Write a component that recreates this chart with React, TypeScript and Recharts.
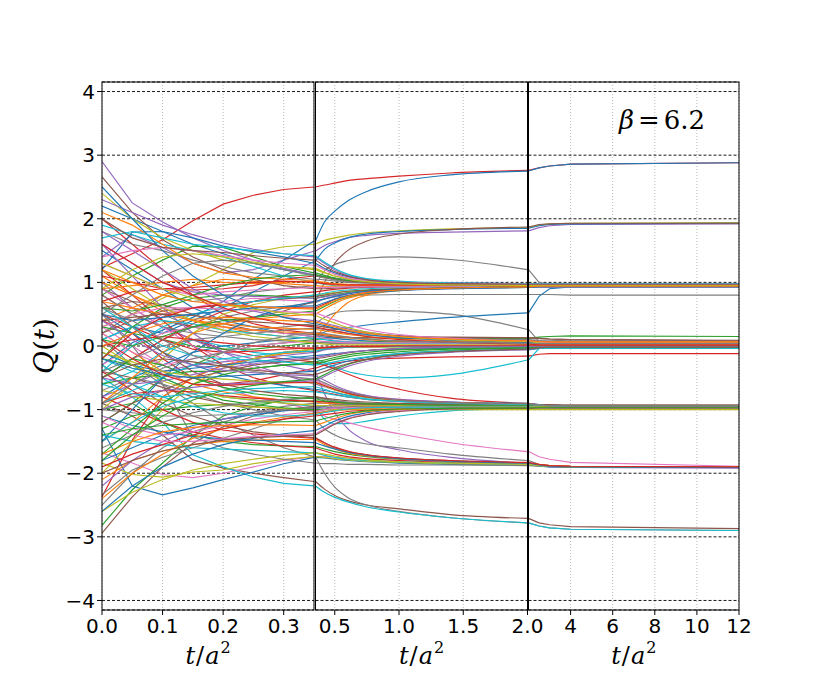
import React from 'react';
import { LineChart, Line, XAxis, YAxis, CartesianGrid } from 'recharts';

// sample times (t/a^2)
const TIMES = [0, 0.05, 0.1, 0.15, 0.2, 0.25, 0.3, 0.35, 0.42, 0.5, 0.6, 0.75, 1.0, 1.4, 2.0, 2.5, 3, 4, 12];

const Y_TICKS = [-4, -3, -2, -1, 0, 1, 2, 3, 4];
const X_TICKS_A = [0, 0.1, 0.2, 0.3];
const X_TICKS_B = [0.5, 1.0, 1.5, 2.0];
const X_TICKS_C = [4, 6, 8, 10, 12];

const PALETTE = ['#1f77b4', '#ff7f0e', '#2ca02c', '#d62728', '#9467bd', '#8c564b', '#e377c2', '#7f7f7f', '#bcbd22', '#17becf'];

// trajectories ending near Q = 3
const PLUS3 = [
  [1.23, 1.45, 1.67, 1.97, 2.23, 2.37, 2.46, 2.5, 2.53, 2.56, 2.6, 2.63, 2.67, 2.72, 2.76, 2.8, 2.83, 2.86, 2.88],
  [-0.3, 0.05, 0.25, 0.45, 0.7, 1.05, 1.35, 1.65, 1.95, 2.12, 2.28, 2.43, 2.58, 2.69, 2.75, 2.8, 2.83, 2.86, 2.88],
];
const PLUS3_C = [3, 0];

// trajectories ending near Q = 2
const PLUS2 = [
  [0.3, 0.5, 0.75, 0.95, 1.2, 1.47, 1.56, 1.6, 1.66, 1.7, 1.74, 1.78, 1.81, 1.84, 1.86, 1.9, 1.92, 1.93, 1.94],
  [1.4, 1.75, 1.55, 1.3, 1.15, 1.2, 1.35, 1.49, 1.58, 1.64, 1.7, 1.74, 1.77, 1.79, 1.81, 1.86, 1.89, 1.91, 1.92],
  [0.1, 0.3, 0.2, 0.4, 0.6, 0.85, 1.1, 1.33, 1.52, 1.62, 1.7, 1.76, 1.8, 1.83, 1.85, 1.89, 1.91, 1.92, 1.93],
  [0.9, 0.7, 0.4, 0.3, 0.35, 0.45, 0.55, 0.7, 1.0, 1.3, 1.5, 1.65, 1.76, 1.83, 1.87, 1.91, 1.92, 1.93, 1.93],
];
const PLUS2_C = [8, 4, 0, 5];

// trajectories ending near Q = 1
const PLUS1 = [
  [0.2, 0.5, 0.8, 0.7, 0.75, 0.85, 0.9, 0.95, 1.18, 1.28, 1.34, 1.38, 1.4, 1.36, 1.2, 1.0, 0.97, 0.97, 0.97],
  [-0.5, -0.2, 0.1, 0.3, 0.45, 0.55, 0.62, 0.68, 0.74, 0.77, 0.79, 0.8, 0.81, 0.81, 0.81, 0.81, 0.81, 0.8, 0.8],
  [-0.8, -0.5, -0.3, -0.1, 0.0, 0.05, 0.1, 0.15, 0.22, 0.26, 0.29, 0.33, 0.38, 0.45, 0.52, 0.78, 0.9, 0.93, 0.94],
  [1.1, 0.8, 0.6, 0.4, 0.3, 0.2, 0.15, 0.12, 0.3, 0.5, 0.68, 0.8, 0.87, 0.91, 0.93, 0.95, 0.95, 0.95, 0.95],
  [2.2, 2.0, 1.8, 1.6, 1.45, 1.3, 1.2, 1.12, 1.08, 1.05, 1.02, 1.0, 0.98, 0.97, 0.96, 0.97, 0.97, 0.97, 0.97],
  [0.4, 0.6, 0.8, 0.95, 1.05, 1.02, 0.98, 0.95, 0.94, 0.94, 0.94, 0.95, 0.95, 0.95, 0.95, 0.96, 0.96, 0.96, 0.96],
  [0.8, 1.1, 1.35, 1.57, 1.55, 1.4, 1.25, 1.15, 1.11, 1.07, 1.04, 1.01, 0.98, 0.96, 0.95, 0.95, 0.95, 0.95, 0.95],
  [-0.5, -0.2, 0.1, 0.35, 0.55, 0.7, 0.8, 0.85, 0.87, 0.89, 0.91, 0.92, 0.93, 0.94, 0.95, 0.95, 0.95, 0.95, 0.95],
  [2.9, 2.25, 1.95, 1.7, 1.5, 1.35, 1.22, 1.12, 1.09, 1.06, 1.04, 1.02, 1.0, 0.99, 0.98, 0.98, 0.98, 0.98, 0.98],
  [2.66, 2.1, 1.67, 1.4, 1.2, 1.05, 0.95, 0.9, 0.9, 0.91, 0.92, 0.93, 0.93, 0.94, 0.94, 0.94, 0.94, 0.94, 0.94],
  [0.0, 0.2, 0.5, 0.6, 0.7, 0.75, 0.72, 0.7, 0.74, 0.78, 0.82, 0.86, 0.89, 0.91, 0.93, 0.94, 0.94, 0.94, 0.94],
  [1.8, 1.6, 1.5, 1.35, 1.25, 1.15, 1.1, 1.05, 1.04, 1.02, 1.0, 0.99, 0.98, 0.97, 0.97, 0.97, 0.97, 0.97, 0.97],
  [-1.0, -0.6, -0.2, 0.2, 0.5, 0.65, 0.75, 0.8, 0.82, 0.84, 0.86, 0.88, 0.9, 0.92, 0.94, 0.95, 0.95, 0.95, 0.95],
  [1.9, 1.75, 1.6, 1.5, 1.4, 1.25, 1.1, 1.0, 0.97, 0.95, 0.95, 0.95, 0.95, 0.95, 0.95, 0.95, 0.95, 0.95, 0.95],
  [1.2, 1.79, 1.8, 1.7, 1.57, 1.48, 1.4, 1.3, 1.22, 1.15, 1.09, 1.04, 1.0, 0.99, 0.98, 0.98, 0.98, 0.98, 0.98],
  [0.9, 0.95, 1.0, 1.05, 1.0, 0.98, 1.0, 1.02, 0.98, 0.96, 0.95, 0.95, 0.95, 0.95, 0.95, 0.95, 0.95, 0.95, 0.95],
  [-0.2, 0.3, 0.6, 0.75, 0.8, 0.8, 0.78, 0.75, 0.78, 0.81, 0.84, 0.87, 0.89, 0.91, 0.92, 0.93, 0.93, 0.93, 0.93],
  [0.7, 0.85, 0.9, 0.88, 0.9, 0.95, 1.05, 1.1, 1.08, 1.05, 1.02, 1.0, 0.98, 0.97, 0.96, 0.96, 0.96, 0.96, 0.96],
  [1.6, 1.3, 1.0, 0.85, 0.8, 0.78, 0.76, 0.75, 0.77, 0.8, 0.83, 0.86, 0.88, 0.9, 0.92, 0.93, 0.93, 0.93, 0.93],
  [0.2, 0.4, 0.55, 0.6, 0.65, 0.7, 0.74, 0.78, 0.8, 0.83, 0.86, 0.88, 0.9, 0.92, 0.94, 0.94, 0.94, 0.94, 0.94],
  [2.1, 1.9, 1.6, 1.3, 1.15, 1.08, 1.05, 1.03, 1.0, 0.98, 0.97, 0.96, 0.96, 0.96, 0.96, 0.96, 0.96, 0.96, 0.96],
  [-0.4, 0.0, 0.3, 0.5, 0.62, 0.7, 0.75, 0.8, 0.83, 0.86, 0.88, 0.9, 0.92, 0.93, 0.94, 0.95, 0.95, 0.95, 0.95],
  [1.1, 1.0, 0.9, 0.92, 0.96, 1.0, 1.02, 1.0, 0.98, 0.97, 0.96, 0.96, 0.96, 0.96, 0.96, 0.96, 0.96, 0.96, 0.96],
  [1.3, 1.1, 0.9, 0.8, 0.85, 0.88, 0.9, 0.92, 0.92, 0.92, 0.93, 0.93, 0.93, 0.93, 0.93, 0.93, 0.93, 0.93, 0.93],
  [0.6, 0.55, 0.65, 0.8, 0.95, 1.05, 1.1, 1.12, 1.09, 1.06, 1.03, 1.01, 0.99, 0.98, 0.97, 0.97, 0.97, 0.97, 0.97],
  [2.4, 2.0, 1.7, 1.5, 1.35, 1.3, 1.25, 1.2, 1.15, 1.1, 1.06, 1.02, 1.0, 0.98, 0.97, 0.97, 0.97, 0.97, 0.97],
  [-1.5, -1.0, -0.5, -0.1, 0.2, 0.45, 0.6, 0.7, 0.74, 0.78, 0.82, 0.86, 0.89, 0.91, 0.93, 0.94, 0.94, 0.94, 0.94],
  [0.5, 0.8, 1.1, 1.3, 1.35, 1.3, 1.2, 1.1, 1.07, 1.04, 1.01, 0.99, 0.97, 0.96, 0.96, 0.96, 0.96, 0.96, 0.96],
  [-0.9, -0.5, -0.1, 0.2, 0.35, 0.42, 0.47, 0.5, 0.58, 0.67, 0.75, 0.82, 0.88, 0.91, 0.93, 0.94, 0.94, 0.94, 0.94],
  [2.3, 2.1, 1.9, 1.75, 1.62, 1.52, 1.45, 1.4, 1.3, 1.2, 1.11, 1.05, 1.01, 0.99, 0.98, 0.98, 0.98, 0.98, 0.98],
  [1.7, 1.8, 1.7, 1.6, 1.55, 1.5, 1.45, 1.42, 1.32, 1.22, 1.13, 1.06, 1.02, 0.99, 0.98, 0.98, 0.98, 0.98, 0.98],
  [0.1, 0.0, 0.15, 0.3, 0.4, 0.45, 0.5, 0.55, 0.62, 0.7, 0.77, 0.83, 0.88, 0.91, 0.93, 0.94, 0.94, 0.94, 0.94],
  [-0.2, 0.2, 0.45, 0.6, 0.65, 0.62, 0.6, 0.6, 0.66, 0.73, 0.79, 0.84, 0.88, 0.91, 0.93, 0.94, 0.94, 0.94, 0.94],
  [1.4, 1.5, 1.55, 1.5, 1.42, 1.35, 1.3, 1.27, 1.2, 1.13, 1.07, 1.03, 1.0, 0.98, 0.97, 0.97, 0.97, 0.97, 0.97],
  [0.9, 1.2, 1.4, 1.45, 1.4, 1.32, 1.25, 1.22, 1.16, 1.1, 1.05, 1.01, 0.98, 0.96, 0.95, 0.95, 0.95, 0.95, 0.95],
  [0.5, 0.4, 0.45, 0.5, 0.55, 0.6, 0.62, 0.63, 0.68, 0.74, 0.79, 0.83, 0.87, 0.9, 0.92, 0.93, 0.93, 0.93, 0.93],
  [2.0, 1.7, 1.55, 1.5, 1.47, 1.42, 1.38, 1.35, 1.26, 1.17, 1.1, 1.04, 1.0, 0.98, 0.97, 0.97, 0.97, 0.97, 0.97],
  [1.2, 1.0, 0.8, 0.7, 0.65, 0.62, 0.6, 0.58, 0.64, 0.71, 0.78, 0.84, 0.88, 0.91, 0.93, 0.94, 0.94, 0.94, 0.94],
];
const PLUS1_C = [7, 7, 0, 1, 0, 1, 2, 3, 4, 5, 6, 7, 8, 9, 0, 1, 2, 3, 4, 5, 1, 9, 3, 6, 2, 8, 0, 7, 1, 4, 9, 2, 3, 6, 8, 0, 5, 1];

// trajectories ending near Q = 0
const ZERO = [
  [0.9, 0.6, 0.5, 0.3, 0.2, 0.25, 0.3, 0.35, 0.45, 0.52, 0.55, 0.56, 0.55, 0.5, 0.26, 0.07, 0.05, 0.05, 0.05],
  [-1.2, -0.9, -0.5, -0.3, -0.1, 0.0, 0.05, 0.1, 0.12, 0.13, 0.13, 0.13, 0.12, 0.12, 0.12, 0.14, 0.15, 0.16, 0.15],
  [0.4, 0.2, -0.2, -0.5, -0.6, -0.55, -0.45, -0.35, -0.3, -0.27, -0.24, -0.21, -0.19, -0.17, -0.16, -0.13, -0.12, -0.12, -0.12],
  [-0.6, -0.4, -0.1, 0.1, 0.0, -0.1, -0.15, -0.2, -0.26, -0.33, -0.4, -0.46, -0.5, -0.45, -0.22, -0.04, -0.02, -0.02, -0.02],
  [-2.37, -1.48, -0.8, -0.5, -0.3, -0.2, -0.1, -0.05, -0.03, -0.02, -0.01, 0.0, 0.0, 0.0, 0.0, 0.0, 0.0, 0.0, 0.0],
  [1.5, 1.2, 0.9, 0.6, 0.4, 0.3, 0.2, 0.15, 0.14, 0.12, 0.1, 0.08, 0.06, 0.05, 0.05, 0.05, 0.05, 0.05, 0.05],
  [-1.5, -1.2, -0.8, -0.5, -0.3, -0.2, -0.12, -0.08, -0.05, -0.03, -0.02, -0.01, 0.0, 0.0, 0.0, 0.0, 0.0, 0.0, 0.0],
  [0.3, 0.2, 0.1, 0.0, -0.05, -0.05, 0.0, 0.05, 0.06, 0.06, 0.06, 0.06, 0.06, 0.06, 0.06, 0.06, 0.06, 0.06, 0.06],
  [2.0, 1.6, 1.2, 0.8, 0.5, 0.35, 0.25, 0.2, 0.18, 0.16, 0.14, 0.11, 0.08, 0.06, 0.05, 0.04, 0.04, 0.04, 0.04],
  [-0.8, -0.6, -0.4, -0.3, -0.25, -0.2, -0.15, -0.1, -0.06, -0.04, -0.02, -0.01, 0.0, 0.0, 0.01, 0.01, 0.01, 0.01, 0.01],
  [0.6, 0.7, 0.65, 0.5, 0.35, 0.25, 0.2, 0.18, 0.16, 0.14, 0.13, 0.13, 0.13, 0.13, 0.13, 0.12, 0.11, 0.1, 0.08],
  [-0.3, 0.0, 0.2, 0.3, 0.3, 0.25, 0.2, 0.15, 0.12, 0.09, 0.07, 0.05, 0.04, 0.03, 0.03, 0.03, 0.03, 0.03, 0.03],
  [0.8, 0.5, 0.3, 0.2, 0.15, 0.1, 0.08, 0.06, 0.05, 0.04, 0.04, 0.04, 0.04, 0.04, 0.04, 0.04, 0.04, 0.04, 0.04],
  [-2.0, -1.5, -1.0, -0.6, -0.35, -0.2, -0.1, -0.05, -0.03, -0.02, -0.02, -0.02, -0.02, -0.02, -0.02, -0.02, -0.02, -0.02, -0.02],
  [0.1, 0.3, 0.4, 0.35, 0.25, 0.2, 0.15, 0.12, 0.1, 0.08, 0.06, 0.05, 0.04, 0.04, 0.04, 0.04, 0.04, 0.04, 0.04],
  [-0.1, -0.3, -0.4, -0.35, -0.3, -0.25, -0.2, -0.15, -0.14, -0.12, -0.1, -0.07, -0.05, -0.04, -0.03, -0.03, -0.03, -0.03, -0.03],
  [1.0, 0.8, 0.55, 0.4, 0.3, 0.25, 0.22, 0.2, 0.18, 0.16, 0.13, 0.1, 0.08, 0.07, 0.06, 0.06, 0.06, 0.06, 0.06],
  [-0.6, -0.5, -0.45, -0.4, -0.4, -0.35, -0.3, -0.25, -0.22, -0.18, -0.14, -0.1, -0.06, -0.04, -0.02, -0.02, -0.02, -0.02, -0.02],
  [0.5, 0.3, 0.1, -0.05, -0.1, -0.08, -0.05, -0.03, -0.02, -0.01, 0.0, 0.0, 0.0, 0.0, 0.0, 0.0, 0.0, 0.0, 0.0],
  [1.8, 1.5, 1.2, 0.9, 0.7, 0.55, 0.45, 0.4, 0.36, 0.32, 0.27, 0.22, 0.16, 0.12, 0.09, 0.08, 0.07, 0.06, 0.05],
  [-1.2, -0.9, -0.7, -0.5, -0.4, -0.3, -0.25, -0.2, -0.18, -0.15, -0.11, -0.07, -0.04, -0.02, 0.0, 0.0, 0.0, 0.0, 0.0],
  [0.2, -0.1, -0.3, -0.2, -0.1, 0.0, 0.05, 0.08, 0.07, 0.06, 0.05, 0.05, 0.05, 0.05, 0.05, 0.05, 0.05, 0.05, 0.05],
  [-0.4, -0.2, 0.0, 0.1, 0.15, 0.2, 0.25, 0.28, 0.26, 0.23, 0.2, 0.17, 0.14, 0.11, 0.1, 0.09, 0.09, 0.08, 0.08],
  [1.2, 0.9, 0.6, 0.4, 0.25, 0.15, 0.1, 0.05, 0.03, 0.02, 0.02, 0.02, 0.02, 0.02, 0.02, 0.02, 0.02, 0.02, 0.02],
  [-0.9, -0.7, -0.5, -0.3, -0.2, -0.15, -0.1, -0.08, -0.05, -0.03, -0.02, -0.01, -0.01, -0.01, -0.01, -0.01, -0.01, -0.01, -0.01],
  [0.0, 0.1, 0.15, 0.1, 0.05, 0.0, -0.02, -0.04, -0.03, -0.02, -0.01, -0.01, 0.0, 0.0, 0.0, 0.0, 0.0, 0.0, 0.0],
  [0.7, 0.6, 0.5, 0.4, 0.35, 0.3, 0.28, 0.26, 0.24, 0.21, 0.18, 0.15, 0.11, 0.08, 0.06, 0.06, 0.06, 0.06, 0.06],
  [-1.7, -1.3, -0.9, -0.6, -0.45, -0.35, -0.3, -0.28, -0.25, -0.21, -0.17, -0.13, -0.09, -0.05, -0.03, -0.03, -0.03, -0.03, -0.03],
  [0.4, 0.45, 0.5, 0.48, 0.42, 0.38, 0.35, 0.32, 0.3, 0.27, 0.24, 0.2, 0.16, 0.14, 0.13, 0.12, 0.11, 0.1, 0.09],
  [-0.5, -0.6, -0.55, -0.45, -0.35, -0.28, -0.22, -0.18, -0.16, -0.13, -0.1, -0.07, -0.04, -0.02, -0.01, -0.01, -0.01, -0.01, -0.01],
  [2.5, 2.0, 1.5, 1.1, 0.8, 0.6, 0.45, 0.35, 0.32, 0.28, 0.23, 0.18, 0.13, 0.09, 0.06, 0.05, 0.05, 0.05, 0.05],
  [-1.0, -0.8, -0.7, -0.65, -0.6, -0.58, -0.56, -0.55, -0.48, -0.4, -0.32, -0.24, -0.16, -0.1, -0.06, -0.04, -0.03, -0.03, -0.03],
  [0.3, 0.5, 0.6, 0.6, 0.58, 0.56, 0.54, 0.52, 0.47, 0.41, 0.34, 0.26, 0.18, 0.12, 0.08, 0.06, 0.05, 0.05, 0.05],
  [-0.2, -0.35, -0.45, -0.5, -0.48, -0.45, -0.42, -0.4, -0.35, -0.3, -0.24, -0.18, -0.12, -0.08, -0.05, -0.04, -0.04, -0.04, -0.04],
  [1.3, 1.1, 0.9, 0.75, 0.65, 0.58, 0.52, 0.48, 0.42, 0.36, 0.29, 0.22, 0.15, 0.1, 0.07, 0.05, 0.04, 0.04, 0.04],
  [-1.8, -1.4, -1.1, -0.85, -0.7, -0.62, -0.56, -0.52, -0.45, -0.37, -0.29, -0.21, -0.13, -0.07, -0.03, -0.02, -0.02, -0.02, -0.02],
  [0.6, 0.3, 0.0, -0.15, -0.2, -0.22, -0.25, -0.3, -0.28, -0.25, -0.21, -0.17, -0.12, -0.08, -0.05, -0.04, -0.04, -0.04, -0.04],
  [0.0, 0.2, 0.35, 0.42, 0.45, 0.43, 0.4, 0.38, 0.34, 0.3, 0.25, 0.2, 0.15, 0.11, 0.08, 0.07, 0.06, 0.06, 0.06],
  [-0.5, -0.3, -0.2, -0.25, -0.32, -0.38, -0.42, -0.45, -0.4, -0.34, -0.28, -0.21, -0.14, -0.09, -0.05, -0.03, -0.02, -0.02, -0.02],
  [1.6, 1.3, 1.0, 0.8, 0.6, 0.45, 0.35, 0.3, 0.27, 0.24, 0.2, 0.15, 0.1, 0.06, 0.03, 0.02, 0.02, 0.02, 0.02],
  [-0.9, -0.6, -0.35, -0.2, -0.1, 0.05, 0.15, 0.22, 0.2, 0.17, 0.14, 0.11, 0.08, 0.06, 0.04, 0.04, 0.04, 0.04, 0.04],
];
const ZERO_C = [7, 2, 3, 9, 3, 0, 1, 2, 3, 4, 5, 6, 7, 8, 9, 0, 1, 2, 3, 4, 5, 6, 7, 8, 9, 3, 1, 2, 5, 4, 0, 4, 6, 0, 8, 2, 9, 1, 5, 3, 7];

// trajectories ending near Q = -1
const MINUS1 = [
  [-0.2, -0.4, -0.5, -0.7, -0.8, -0.85, -0.9, -0.95, -1.15, -1.22, -1.22, -1.18, -1.1, -1.02, -0.98, -0.97, -0.97, -0.97, -0.97],
  [0.8, 0.5, 0.3, 0.1, -0.05, -0.15, -0.2, -0.25, -0.3, -0.36, -0.44, -0.55, -0.68, -0.82, -0.9, -0.93, -0.94, -0.95, -0.95],
  [-2.94, -2.37, -1.9, -1.53, -1.27, -1.1, -1.0, -0.95, -0.94, -0.94, -0.94, -0.95, -0.95, -0.96, -0.96, -0.96, -0.97, -0.97, -0.97],
  [-2.82, -2.26, -1.84, -1.42, -1.1, -0.95, -0.85, -0.8, -0.83, -0.86, -0.89, -0.91, -0.93, -0.94, -0.95, -0.95, -0.96, -0.96, -0.96],
  [-2.5, -2.0, -1.6, -1.35, -1.2, -1.05, -0.95, -0.9, -0.9, -0.91, -0.92, -0.93, -0.94, -0.95, -0.95, -0.96, -0.96, -0.96, -0.96],
  [-2.34, -1.95, -1.75, -1.6, -1.45, -1.3, -1.15, -1.05, -1.03, -1.01, -0.99, -0.98, -0.97, -0.97, -0.97, -0.97, -0.97, -0.97, -0.97],
  [-1.8, -1.6, -1.4, -1.25, -1.15, -1.08, -1.02, -0.98, -0.95, -0.93, -0.92, -0.92, -0.92, -0.93, -0.93, -0.94, -0.94, -0.95, -0.95],
  [0.2, -0.1, -0.4, -0.6, -0.72, -0.8, -0.85, -0.88, -0.9, -0.91, -0.92, -0.92, -0.93, -0.93, -0.93, -0.94, -0.94, -0.94, -0.94],
  [-1.3, -1.1, -1.0, -0.95, -0.92, -0.9, -0.88, -0.86, -0.87, -0.88, -0.89, -0.9, -0.91, -0.92, -0.92, -0.93, -0.93, -0.94, -0.94],
  [1.2, 0.8, 0.4, 0.0, -0.3, -0.5, -0.62, -0.7, -0.73, -0.76, -0.8, -0.84, -0.87, -0.9, -0.91, -0.92, -0.93, -0.94, -0.94],
  [-2.2, -1.8, -1.5, -1.3, -1.15, -1.05, -1.0, -0.98, -0.97, -0.96, -0.96, -0.96, -0.96, -0.96, -0.96, -0.97, -0.97, -0.97, -0.97],
  [-0.4, -0.5, -0.65, -0.8, -0.9, -0.95, -1.0, -1.02, -1.0, -0.98, -0.96, -0.95, -0.95, -0.95, -0.95, -0.96, -0.96, -0.96, -0.96],
  [0.9, 0.6, 0.3, 0.0, -0.2, -0.35, -0.45, -0.55, -0.6, -0.66, -0.72, -0.78, -0.84, -0.88, -0.91, -0.93, -0.94, -0.95, -0.95],
  [-1.0, -1.05, -1.1, -1.1, -1.08, -1.05, -1.0, -0.96, -0.94, -0.93, -0.92, -0.92, -0.92, -0.92, -0.92, -0.93, -0.93, -0.93, -0.93],
  [-0.7, -0.8, -0.85, -0.9, -0.93, -0.96, -0.98, -1.0, -1.0, -1.0, -1.0, -1.0, -1.0, -1.0, -1.0, -1.0, -1.0, -1.0, -1.0],
  [-1.5, -1.2, -0.95, -0.8, -0.75, -0.72, -0.7, -0.72, -0.74, -0.77, -0.8, -0.84, -0.87, -0.9, -0.92, -0.93, -0.94, -0.95, -0.95],
  [0.5, 0.2, -0.1, -0.3, -0.45, -0.55, -0.62, -0.68, -0.7, -0.73, -0.77, -0.81, -0.85, -0.88, -0.9, -0.92, -0.93, -0.94, -0.95],
  [-2.4, -2.0, -1.7, -1.45, -1.3, -1.2, -1.12, -1.06, -1.04, -1.02, -1.0, -0.98, -0.97, -0.96, -0.96, -0.96, -0.96, -0.96, -0.96],
  [-0.2, -0.3, -0.5, -0.7, -0.85, -0.92, -0.97, -1.0, -0.99, -0.98, -0.97, -0.96, -0.96, -0.96, -0.96, -0.96, -0.96, -0.96, -0.96],
  [-0.9, -0.75, -0.7, -0.72, -0.78, -0.82, -0.85, -0.87, -0.88, -0.89, -0.9, -0.91, -0.91, -0.92, -0.92, -0.93, -0.93, -0.94, -0.94],
  [1.6, 1.1, 0.6, 0.2, -0.1, -0.3, -0.45, -0.6, -0.64, -0.69, -0.74, -0.79, -0.84, -0.88, -0.92, -0.93, -0.94, -0.95, -0.95],
  [-1.1, -1.3, -1.4, -1.35, -1.25, -1.15, -1.08, -1.03, -1.0, -0.98, -0.97, -0.96, -0.96, -0.96, -0.96, -0.96, -0.96, -0.96, -0.96],
  [-0.3, -0.6, -0.8, -0.95, -1.05, -1.1, -1.1, -1.08, -1.05, -1.02, -0.99, -0.97, -0.96, -0.96, -0.96, -0.96, -0.96, -0.96, -0.96],
  [0.0, -0.3, -0.55, -0.7, -0.8, -0.85, -0.9, -0.93, -0.94, -0.94, -0.94, -0.94, -0.94, -0.94, -0.94, -0.95, -0.95, -0.95, -0.95],
  [-1.6, -1.4, -1.2, -1.05, -0.95, -0.88, -0.84, -0.82, -0.84, -0.86, -0.88, -0.9, -0.92, -0.93, -0.93, -0.94, -0.94, -0.94, -0.94],
  [0.7, 0.3, -0.1, -0.4, -0.6, -0.7, -0.76, -0.8, -0.82, -0.84, -0.86, -0.88, -0.9, -0.91, -0.92, -0.93, -0.93, -0.93, -0.93],
  [-0.5, -0.2, -0.3, -0.5, -0.65, -0.75, -0.8, -0.83, -0.86, -0.88, -0.9, -0.91, -0.92, -0.93, -0.93, -0.94, -0.94, -0.95, -0.95],
  [-1.9, -1.7, -1.55, -1.4, -1.3, -1.22, -1.15, -1.1, -1.08, -1.06, -1.03, -1.01, -0.99, -0.98, -0.97, -0.97, -0.97, -0.97, -0.97],
  [-2.6, -2.2, -1.9, -1.7, -1.55, -1.45, -1.38, -1.33, -1.26, -1.18, -1.11, -1.05, -1.0, -0.98, -0.97, -0.97, -0.97, -0.97, -0.97],
  [0.4, 0.1, -0.15, -0.3, -0.38, -0.42, -0.45, -0.47, -0.54, -0.62, -0.7, -0.78, -0.85, -0.89, -0.92, -0.93, -0.94, -0.95, -0.95],
  [-1.2, -1.4, -1.5, -1.5, -1.46, -1.42, -1.4, -1.38, -1.3, -1.22, -1.14, -1.07, -1.02, -0.99, -0.97, -0.97, -0.97, -0.97, -0.97],
  [-0.1, -0.25, -0.4, -0.48, -0.52, -0.55, -0.57, -0.58, -0.63, -0.69, -0.75, -0.81, -0.86, -0.89, -0.91, -0.93, -0.94, -0.95, -0.95],
  [-1.7, -1.5, -1.35, -1.28, -1.25, -1.24, -1.24, -1.25, -1.2, -1.14, -1.08, -1.03, -1.0, -0.98, -0.97, -0.97, -0.97, -0.97, -0.97],
  [0.1, -0.2, -0.45, -0.6, -0.62, -0.6, -0.58, -0.57, -0.62, -0.68, -0.74, -0.8, -0.85, -0.89, -0.91, -0.93, -0.94, -0.95, -0.95],
  [-2.0, -1.8, -1.65, -1.55, -1.48, -1.44, -1.42, -1.4, -1.32, -1.23, -1.15, -1.08, -1.03, -0.99, -0.98, -0.97, -0.97, -0.97, -0.97],
  [-0.6, -0.75, -0.8, -0.75, -0.7, -0.67, -0.65, -0.64, -0.68, -0.73, -0.78, -0.83, -0.87, -0.9, -0.92, -0.93, -0.94, -0.95, -0.95],
  [-1.4, -1.3, -1.25, -1.22, -1.2, -1.2, -1.19, -1.18, -1.14, -1.1, -1.06, -1.02, -0.99, -0.98, -0.97, -0.97, -0.97, -0.97, -0.97],
  [0.6, 0.4, 0.1, -0.15, -0.3, -0.4, -0.47, -0.52, -0.58, -0.65, -0.72, -0.79, -0.85, -0.89, -0.91, -0.93, -0.94, -0.95, -0.95],
];
const MINUS1_C = [9, 3, 5, 2, 7, 7, 0, 1, 2, 3, 4, 5, 6, 7, 8, 9, 0, 1, 2, 3, 4, 6, 9, 8, 7, 5, 2, 3, 0, 4, 6, 8, 1, 3, 5, 9, 2, 7];

// trajectories ending near Q = -2
const MINUS2 = [
  [0.3, 0.0, -0.3, -0.5, -0.65, -0.8, -0.9, -1.0, -1.1, -1.15, -1.2, -1.28, -1.38, -1.52, -1.66, -1.74, -1.78, -1.83, -1.89],
  [-1.68, -1.84, -2.02, -2.07, -2.0, -1.9, -1.8, -1.74, -1.74, -1.75, -1.76, -1.78, -1.8, -1.82, -1.84, -1.87, -1.88, -1.89, -1.9],
  [1.0, 0.6, 0.3, 0.1, -0.1, -0.2, -0.3, -0.4, -0.75, -1.05, -1.3, -1.5, -1.63, -1.75, -1.84, -1.88, -1.9, -1.91, -1.92],
  [-0.7, -0.5, -0.6, -0.75, -0.9, -1.0, -1.1, -1.16, -1.3, -1.4, -1.48, -1.54, -1.6, -1.7, -1.8, -1.86, -1.88, -1.9, -1.91],
  [-1.3, -2.2, -2.34, -2.23, -2.1, -1.98, -1.85, -1.75, -1.76, -1.78, -1.8, -1.82, -1.84, -1.86, -1.87, -1.89, -1.9, -1.9, -1.91],
  [-1.84, -2.02, -2.06, -1.98, -1.95, -1.85, -1.78, -1.74, -1.75, -1.77, -1.79, -1.81, -1.83, -1.85, -1.86, -1.88, -1.89, -1.9, -1.9],
  [0.5, 0.0, -0.6, -1.43, -1.6, -1.7, -1.78, -1.84, -1.85, -1.85, -1.86, -1.86, -1.87, -1.87, -1.88, -1.89, -1.89, -1.9, -1.9],
  [-1.0, -0.9, -1.2, -1.4, -1.5, -1.55, -1.57, -1.58, -1.62, -1.66, -1.7, -1.74, -1.78, -1.81, -1.84, -1.87, -1.88, -1.89, -1.9],
  [-0.8, -1.0, -1.2, -1.35, -1.45, -1.52, -1.57, -1.6, -1.65, -1.7, -1.74, -1.77, -1.8, -1.83, -1.85, -1.87, -1.88, -1.89, -1.9],
  [-2.1, -1.8, -1.65, -1.55, -1.5, -1.48, -1.47, -1.47, -1.55, -1.62, -1.68, -1.73, -1.77, -1.81, -1.84, -1.86, -1.88, -1.89, -1.9],
  [-1.4, -1.5, -1.55, -1.6, -1.62, -1.64, -1.66, -1.68, -1.72, -1.75, -1.78, -1.8, -1.82, -1.84, -1.86, -1.88, -1.89, -1.9, -1.91],
  [-0.3, -0.6, -0.9, -1.1, -1.25, -1.35, -1.4, -1.44, -1.52, -1.6, -1.66, -1.71, -1.76, -1.8, -1.84, -1.87, -1.89, -1.9, -1.91],
  [-2.6, -2.3, -2.1, -1.95, -1.85, -1.78, -1.72, -1.68, -1.7, -1.73, -1.76, -1.79, -1.82, -1.84, -1.86, -1.88, -1.89, -1.9, -1.9],
  [-1.1, -1.25, -1.35, -1.42, -1.46, -1.48, -1.5, -1.52, -1.57, -1.62, -1.67, -1.72, -1.77, -1.81, -1.84, -1.87, -1.89, -1.9, -1.91],
  [-0.4, -0.7, -1.0, -1.2, -1.32, -1.38, -1.42, -1.45, -1.52, -1.59, -1.65, -1.71, -1.76, -1.8, -1.83, -1.86, -1.88, -1.89, -1.9],
];
const MINUS2_C = [6, 6, 4, 7, 0, 8, 7, 2, 3, 1, 9, 5, 8, 0, 3];

// trajectories ending near Q = -3
const MINUS3 = [
  [-0.9, -1.1, -1.4, -1.79, -1.92, -2.0, -2.07, -2.13, -2.25, -2.35, -2.43, -2.5, -2.56, -2.65, -2.71, -2.78, -2.81, -2.84, -2.87],
  [0.1, -0.3, -0.6, -0.9, -1.2, -1.4, -1.6, -1.74, -2.0, -2.22, -2.38, -2.5, -2.6, -2.7, -2.78, -2.83, -2.86, -2.88, -2.9],
  [-0.5, -0.8, -1.2, -1.71, -1.9, -2.06, -2.16, -2.2, -2.3, -2.38, -2.45, -2.53, -2.61, -2.7, -2.78, -2.83, -2.86, -2.88, -2.9],
];
const MINUS3_C = [5, 7, 9];

type Traj = { key: string; color: string; vals: number[] };

function collectLines(): Traj[] {
  const groups: [number[][], number[]][] = [
    [ZERO, ZERO_C], [PLUS1, PLUS1_C], [MINUS1, MINUS1_C], [MINUS2, MINUS2_C],
    [PLUS2, PLUS2_C], [MINUS3, MINUS3_C], [PLUS3, PLUS3_C],
  ];
  const out: Traj[] = [];
  const maxLen = Math.max(...groups.map((g) => g[0].length));
  for (let i = 0; i < maxLen; i++) {
    groups.forEach(([rows, cols], gi) => {
      if (i < rows.length) {
        out.push({ key: `q${gi}_${i}`, color: PALETTE[cols[i] ?? i % 10], vals: rows[i] });
      }
    });
  }
  return out;
}
const LINES = collectLines();

const W = 822;
const H = 685;
const PLOT_TOP = 82;
const PLOT_BOTTOM = 610;
const Y_AXIS_W = 40;
const X_AXIS_H = 30;
const TICK_FONT = "'DejaVu Sans', sans-serif";
const MATH_FONT = 'DejaVu Serif';

type PanelDef = {
  lo: number; hi: number; ticks: number[]; fmt: (v: number) => string;
  left: number; right: number; curve: 'linear' | 'monotone'; showY: boolean;
};

const PANELS: PanelDef[] = [
  { lo: 0, hi: 0.35, ticks: X_TICKS_A, fmt: (v) => v.toFixed(1), left: 102, right: 314, curve: 'linear', showY: true },
  { lo: 0.35, hi: 2.0, ticks: X_TICKS_B, fmt: (v) => v.toFixed(1), left: 315.5, right: 527.5, curve: 'monotone', showY: false },
  { lo: 2, hi: 12, ticks: X_TICKS_C, fmt: (v) => String(v), left: 528.5, right: 739, curve: 'linear', showY: false },
];

const yFmt = (v: number) => (v < 0 ? '\u2212' + Math.abs(v) : String(v));

function Panel({ p }: { p: PanelDef }) {
  const data = TIMES.map((t, i) => ({ t, i }))
    .filter((o) => o.t >= p.lo - 1e-9 && o.t <= p.hi + 1e-9)
    .map(({ t, i }) => {
      const row: Record<string, number> = { t };
      LINES.forEach((l) => { row[l.key] = l.vals[i]; });
      return row;
    });
  return (
    <div style={{ position: 'absolute', left: 0, top: 0 }}>
      <LineChart
        width={W}
        height={H}
        data={data}
        margin={{
          top: PLOT_TOP,
          bottom: H - PLOT_BOTTOM - X_AXIS_H,
          left: p.left - (p.showY ? Y_AXIS_W : 0),
          right: W - p.right,
        }}
      >
        <CartesianGrid horizontal={false} stroke="#b8b8b8" strokeDasharray="1 2" />
        <CartesianGrid vertical={false} stroke="#000" strokeDasharray="3 2" strokeWidth={0.9} />
        <XAxis
          dataKey="t"
          type="number"
          domain={[p.lo, p.hi]}
          allowDataOverflow
          ticks={p.ticks}
          interval={0}
          tickFormatter={p.fmt}
          axisLine={false}
          tickLine={{ stroke: '#000' }}
          tickSize={5}
          tickMargin={4}
          height={X_AXIS_H}
          tick={{ fontSize: 20, fill: '#000', fontFamily: TICK_FONT }}
        />
        <YAxis
          type="number"
          domain={[-4.15, 4.15]}
          allowDataOverflow
          ticks={Y_TICKS}
          interval={0}
          hide={!p.showY}
          width={Y_AXIS_W}
          tickFormatter={yFmt}
          axisLine={false}
          tickLine={{ stroke: '#000' }}
          tickSize={5}
          tickMargin={2}
          tick={{ fontSize: 20, fill: '#000', fontFamily: TICK_FONT }}
        />
        {LINES.map((l) => (
          <Line
            key={l.key}
            dataKey={l.key}
            type={p.curve}
            stroke={l.color}
            strokeWidth={1.15}
            dot={false}
            activeDot={false}
            isAnimationActive={false}
          />
        ))}
      </LineChart>
    </div>
  );
}

function Overlay() {
  const math = { fontFamily: MATH_FONT };
  return (
    <svg width={W} height={H} style={{ position: 'absolute', left: 0, top: 0, pointerEvents: 'none' }}>
      {PANELS.map((p, i) => (
        <rect key={i} x={p.left} y={PLOT_TOP} width={p.right - p.left} height={PLOT_BOTTOM - PLOT_TOP}
          fill="none" stroke="#000" strokeWidth={1} />
      ))}
      {PANELS.map((p, i) => (
        <text key={'xl' + i} x={(p.left + p.right) / 2} y={664} textAnchor="middle"
          style={math} fontSize={24} fill="#000">
          <tspan fontStyle="italic">t</tspan>
          <tspan dx={1}>/</tspan>
          <tspan dx={1} fontStyle="italic">a</tspan>
          <tspan dx={1} dy={-11} fontSize={16}>2</tspan>
        </text>
      ))}
      <text x={44} y={346} transform="rotate(-90 44 346)" textAnchor="middle" dominantBaseline="central"
        style={math} fontSize={28} fill="#000">
        <tspan fontStyle="italic">Q</tspan>
        <tspan>(</tspan>
        <tspan fontStyle="italic">t</tspan>
        <tspan>)</tspan>
      </text>
      <text x={662} y={129} textAnchor="middle" style={math} fontSize={26} fill="#000">
        <tspan fontStyle="italic">β</tspan>
        <tspan dx={4}>=</tspan>
        <tspan dx={4}>6.2</tspan>
      </text>
    </svg>
  );
}

export default function App() {
  return (
    <div style={{ position: 'absolute', left: 0, top: 0, width: W, height: H, background: '#fff' }}>
      {PANELS.map((p, i) => (
        <Panel key={i} p={p} />
      ))}
      <Overlay />
    </div>
  );
}
